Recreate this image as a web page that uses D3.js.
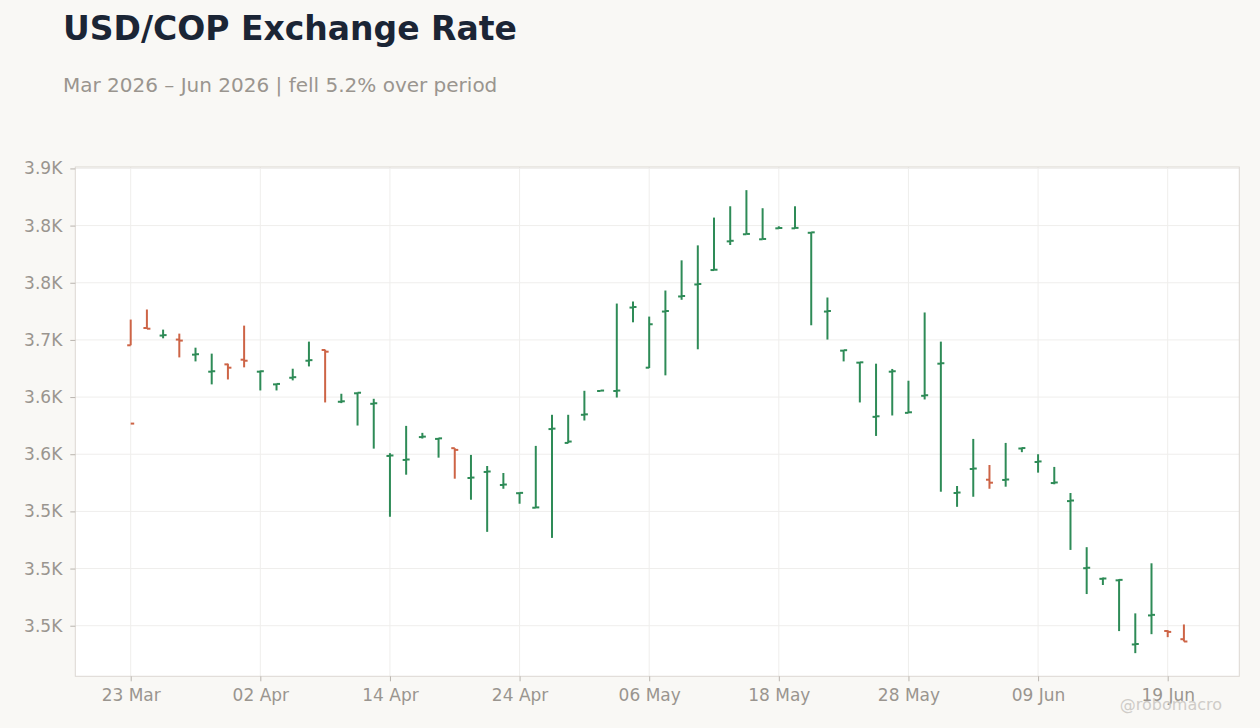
<!DOCTYPE html>
<html>
<head>
<meta charset="utf-8">
<script src="https://cdn.jsdelivr.net/npm/d3@7"></script>
<style>
  html, body { margin: 0; padding: 0; background: #f9f8f5; }
  svg { display: block; font-family: "DejaVu Sans", sans-serif; }
</style>
</head>
<body>
<svg id="chart" width="1260" height="728"></svg>
<script>
// ---- data ----
const dates = [
  "2026-03-23","2026-03-24","2026-03-25","2026-03-26","2026-03-27","2026-03-30","2026-03-31",
  "2026-04-01","2026-04-02","2026-04-03","2026-04-06","2026-04-07","2026-04-08","2026-04-09","2026-04-10",
  "2026-04-13","2026-04-14","2026-04-15","2026-04-16","2026-04-17","2026-04-20","2026-04-21","2026-04-22",
  "2026-04-23","2026-04-24","2026-04-27","2026-04-28","2026-04-29","2026-04-30",
  "2026-05-01","2026-05-04","2026-05-05","2026-05-06","2026-05-07","2026-05-08","2026-05-11","2026-05-12",
  "2026-05-13","2026-05-14","2026-05-15","2026-05-18","2026-05-19","2026-05-20","2026-05-21","2026-05-22",
  "2026-05-25","2026-05-26","2026-05-27","2026-05-28","2026-05-29",
  "2026-06-01","2026-06-02","2026-06-03","2026-06-04","2026-06-05","2026-06-08","2026-06-09","2026-06-10",
  "2026-06-11","2026-06-12","2026-06-15","2026-06-16","2026-06-17","2026-06-18","2026-06-19","2026-06-22"
];
const open = [3745.3,3760.4,3753.8,3750.3,3737.1,3722.2,3728.6,3732.7,3722.2,3711.1,3716.9,3731.8,3741.2,3695.9,3703.3,3694.1,3648.5,3645.0,3665.0,3663.4,3655.3,3629.2,3634.5,3623.1,3615.9,3603.2,3672.0,3659.9,3684.5,3705.3,3705.3,3778.3,3725.7,3774.8,3788.0,3798.5,3811.1,3836.2,3842.4,3838.0,3847.6,3847.6,3843.7,3774.8,3740.6,3730.1,3682.7,3722.2,3686.2,3701.1,3729.2,3616.1,3637.1,3627.7,3627.5,3655.0,3643.2,3624.8,3609.0,3550.3,3541.0,3539.7,3483.6,3509.0,3495.4,3488.2];
const high = [3767.8,3776.6,3759.0,3755.5,3743.2,3738.0,3729.2,3762.5,3723.1,3711.7,3724.8,3748.5,3741.5,3702.9,3704.0,3698.5,3650.9,3674.8,3668.7,3664.3,3655.3,3649.4,3639.7,3633.6,3616.5,3657.3,3684.5,3684.5,3705.5,3705.8,3781.8,3783.6,3770.4,3793.2,3819.6,3832.7,3857.0,3866.9,3881.0,3865.2,3849.4,3866.9,3844.1,3787.1,3741.2,3730.6,3729.2,3724.6,3714.3,3774.0,3748.5,3622.2,3663.4,3640.6,3659.9,3655.8,3650.0,3638.9,3616.1,3568.7,3542.1,3540.6,3510.8,3554.6,3496.1,3501.1];
const low = [3745.3,3759.8,3751.4,3734.7,3731.2,3711.1,3715.4,3726.0,3705.8,3705.8,3714.6,3726.8,3695.3,3694.7,3675.1,3654.9,3595.3,3632.1,3663.7,3647.0,3628.6,3610.2,3582.1,3619.8,3606.7,3603.2,3576.8,3659.6,3679.5,3705.2,3699.6,3765.4,3725.4,3719.0,3785.1,3741.8,3811.1,3833.0,3842.4,3838.0,3847.4,3847.6,3762.8,3750.3,3731.2,3695.3,3666.0,3683.9,3686.0,3697.9,3617.2,3604.0,3612.8,3619.8,3621.6,3651.8,3633.9,3623.7,3566.3,3527.7,3535.6,3495.3,3476.0,3492.6,3490.0,3486.2];
const close = [3676.8,3759.8,3754.2,3749.4,3737.5,3722.6,3725.7,3731.8,3722.6,3711.5,3717.4,3732.3,3739.7,3696.3,3703.8,3694.6,3648.9,3645.4,3665.4,3663.9,3653.8,3629.6,3634.9,3623.5,3616.2,3603.5,3672.4,3661.1,3684.9,3705.7,3705.7,3778.8,3763.7,3775.3,3788.4,3798.9,3811.4,3836.7,3842.7,3838.3,3847.9,3848.0,3844.1,3775.3,3741.0,3730.4,3683.2,3722.6,3686.7,3701.6,3729.6,3616.5,3637.5,3625.1,3627.9,3655.4,3643.7,3625.3,3609.5,3550.7,3541.3,3540.1,3484.0,3509.5,3494.6,3486.2];
const yTickValues = [3500,3550,3600,3650,3700,3750,3800,3850,3900];
const yTickLabels = ["3.5K","3.5K","3.5K","3.6K","3.6K","3.7K","3.8K","3.8K","3.9K"];
const xTickEvery = 8;

const titleText = "USD/COP Exchange Rate";
const subtitleText = "Mar 2026 – Jun 2026 | fell 5.2% over period";
const watermark = "@robomacro";

// ---- layout ----
const W = 1260, H = 728;
const plot = {left: 75.3, right: 1239.3, top: 167, bottom: 676.3};
const UP = "#2e8b57", DOWN = "#cd6446";
const TXT = "#9a958f";

const svg = d3.select("#chart");
svg.append("rect").attr("width", W).attr("height", H).attr("fill", "#f9f8f5");

const n = dates.length;
const parse = d3.timeParse("%Y-%m-%d");
const fmt = d3.timeFormat("%d %b");
const padX = 0.0526 * (n - 1);
const x = d3.scaleLinear().domain([-padX, (n - 1) + padX]).range([plot.left, plot.right]);
const lo = d3.min(low), hi = d3.max(high);
const padY = (hi - lo) * 0.05;
const y = d3.scaleLinear().domain([lo - padY, hi + padY]).range([plot.bottom, plot.top]);

// plot background
svg.append("rect")
  .attr("x", plot.left).attr("y", plot.top)
  .attr("width", plot.right - plot.left).attr("height", plot.bottom - plot.top)
  .attr("fill", "#ffffff");

const xTicks = d3.range(0, n, xTickEvery);

// gridlines
const grid = svg.append("g").attr("stroke", "#efeeec").attr("stroke-width", 1);
grid.selectAll("line.h").data(yTickValues).join("line")
  .attr("x1", plot.left).attr("x2", plot.right)
  .attr("y1", d => y(d)).attr("y2", d => y(d));
grid.selectAll("line.v").data(xTicks).join("line")
  .attr("y1", plot.top).attr("y2", plot.bottom)
  .attr("x1", d => x(d)).attr("x2", d => x(d));

// frame
svg.append("rect")
  .attr("x", plot.left).attr("y", plot.top)
  .attr("width", plot.right - plot.left).attr("height", plot.bottom - plot.top)
  .attr("fill", "none").attr("stroke", "#dcd8d2").attr("stroke-width", 1);

// axes
const yAxis = d3.axisLeft(y).tickValues(yTickValues)
  .tickFormat((d, i) => yTickLabels[i]).tickSize(5).tickPadding(8);
const gy = svg.append("g").attr("transform", `translate(${plot.left},0)`).call(yAxis);
gy.select(".domain").remove();
gy.selectAll(".tick line").attr("stroke", "#b9b4ae");
gy.selectAll(".tick text").attr("fill", TXT).attr("font-size", 17).attr("font-family", "DejaVu Sans");

const xAxis = d3.axisBottom(x).tickValues(xTicks)
  .tickFormat(i => fmt(parse(dates[i]))).tickSize(5).tickPadding(8);
const gx = svg.append("g").attr("transform", `translate(0,${plot.bottom})`).call(xAxis);
gx.select(".domain").remove();
gx.selectAll(".tick line").attr("stroke", "#b9b4ae");
gx.selectAll(".tick text").attr("fill", TXT).attr("font-size", 17).attr("font-family", "DejaVu Sans");

// OHLC bars
const bars = d3.range(n).map(i => ({i, o: open[i], h: high[i], l: low[i], c: close[i]}));
const g = svg.append("g").attr("stroke-width", 2).attr("stroke-linecap", "butt");
const bg = g.selectAll("g.bar").data(bars).join("g")
  .attr("stroke", d => d.c >= d.o ? UP : DOWN);
const tickLen = 3.5;
bg.append("line")
  .attr("x1", d => x(d.i)).attr("x2", d => x(d.i))
  .attr("y1", d => y(d.h)).attr("y2", d => y(d.l));
bg.append("line")
  .attr("x1", d => x(d.i) - tickLen).attr("x2", d => x(d.i))
  .attr("y1", d => y(d.o)).attr("y2", d => y(d.o));
bg.append("line")
  .attr("x1", d => x(d.i)).attr("x2", d => x(d.i) + tickLen)
  .attr("y1", d => y(d.c)).attr("y2", d => y(d.c));

// titles
svg.append("text").attr("x", 63).attr("y", 40)
  .attr("font-size", 33).attr("font-weight", "bold").attr("fill", "#1b2535")
  .text(titleText);
svg.append("text").attr("x", 63).attr("y", 92)
  .attr("font-size", 20).attr("fill", "#9a958f")
  .text(subtitleText);

// watermark
svg.append("text").attr("x", 1222).attr("y", 710).attr("text-anchor", "end")
  .attr("font-size", 16).attr("fill", "#cfccc8")
  .text(watermark);
</script>
</body>
</html>
